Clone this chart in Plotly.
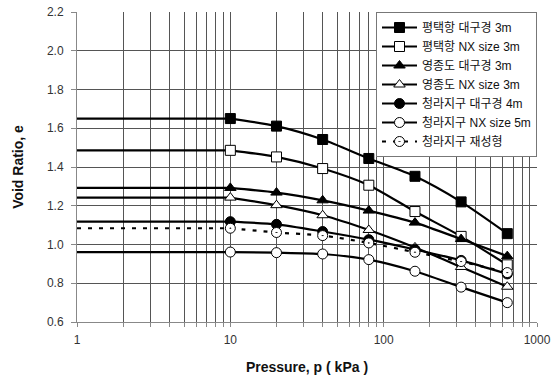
import plotly.graph_objects as go

pressure = [10, 20, 40, 80, 160, 320, 640]
start_p = [1, 10]

names = ["평택항 대구경 3m", "평택항 NX size 3m", "영종도 대구경 3m", "영종도 NX size 3m",
         "청라지구 대구경 4m", "청라지구 NX size 5m", "청라지구 재성형"]

s1 = [1.650, 1.611, 1.542, 1.444, 1.352, 1.220, 1.056]
s2 = [1.486, 1.452, 1.392, 1.306, 1.170, 1.042, 0.895]
s3 = [1.292, 1.268, 1.228, 1.175, 1.113, 1.028, 0.940]
s4 = [1.242, 1.203, 1.151, 1.075, 0.985, 0.884, 0.782]
s5 = [1.118, 1.104, 1.067, 1.025, 0.974, 0.918, 0.848]
s6 = [0.961, 0.958, 0.951, 0.922, 0.862, 0.780, 0.700]
s7 = [1.084, 1.062, 1.046, 1.008, 0.960, 0.912, 0.855]
series = [s1, s2, s3, s4, s5, s6, s7]

symbols = ["square", "square", "triangle-up", "triangle-up", "circle", "circle", "circle-dot"]
fills = ["black", "white", "black", "white", "black", "white", "white"]
dashes = ["solid"] * 6 + ["4px,7px"]

xticks = [d * 10 ** e for e in range(3) for d in range(1, 10)] + [1000]
xtext = [str(v) if v in (1, 10, 100, 1000) else "" for v in xticks]

FONT = "Arial, 'Liberation Sans', 'Noto Sans CJK KR', sans-serif"

fig = go.Figure()
for i, (nm, ys) in enumerate(zip(names, series)):
    fig.add_trace(go.Scatter(
        x=start_p, y=[ys[0], ys[0]], mode="lines", showlegend=False, hoverinfo="skip",
        line=dict(color="black", width=2.2, dash=dashes[i])))
for i, (nm, ys) in enumerate(zip(names, series)):
    fig.add_trace(go.Scatter(
        x=pressure, y=ys, mode="lines+markers", name=nm,
        line=dict(color="black", width=2.2, shape="spline", smoothing=0.7, dash=dashes[i]),
        marker=dict(symbol=symbols[i], size=10, color=fills[i],
                    line=dict(color="black", width=1))))

fig.update_layout(
    width=551, height=376,
    margin=dict(l=77, r=14, t=12, b=54, autoexpand=False),
    paper_bgcolor="white", plot_bgcolor="white",
    font=dict(family=FONT, size=12, color="#333"),
    showlegend=True,
    legend=dict(x=1, y=1, xanchor="right", yanchor="top", bgcolor="white",
                bordercolor="#777", borderwidth=1, font=dict(size=12, color="#111"),
                itemwidth=35, tracegroupgap=0),
    xaxis=dict(type="log", range=[0, 3], tickvals=xticks, ticktext=xtext,
               showgrid=True, gridcolor="#555", gridwidth=1,
               ticks="outside", ticklen=4, tickcolor="#888", ticklabelstandoff=3,
               showline=True, linecolor="#888", linewidth=1,
               tickfont=dict(size=12, color="#333"), automargin=False,
               title=dict(text="<b>Pressure, p ( kPa )</b>", font=dict(size=14, color="#111"), standoff=15),
               zeroline=False),
    yaxis=dict(range=[0.6, 2.2], dtick=0.2, tick0=0.6, tickformat=".1f",
               showgrid=True, gridcolor="#555", gridwidth=1,
               ticks="outside", ticklen=5, tickcolor="#888", ticklabelstandoff=5,
               showline=True, linecolor="#888", linewidth=1,
               tickfont=dict(size=12, color="#333"), automargin=False,
               title=dict(text="<b>Void Ratio, e</b>", font=dict(size=14, color="#111"), standoff=20),
               zeroline=False),
)

# remove the page's default 8px body margin so the figure sits at the window origin
fig.write_html("out.html",
               config={"displayModeBar": False},
               post_script="document.body.style.margin='0';document.body.style.overflow='hidden';")
